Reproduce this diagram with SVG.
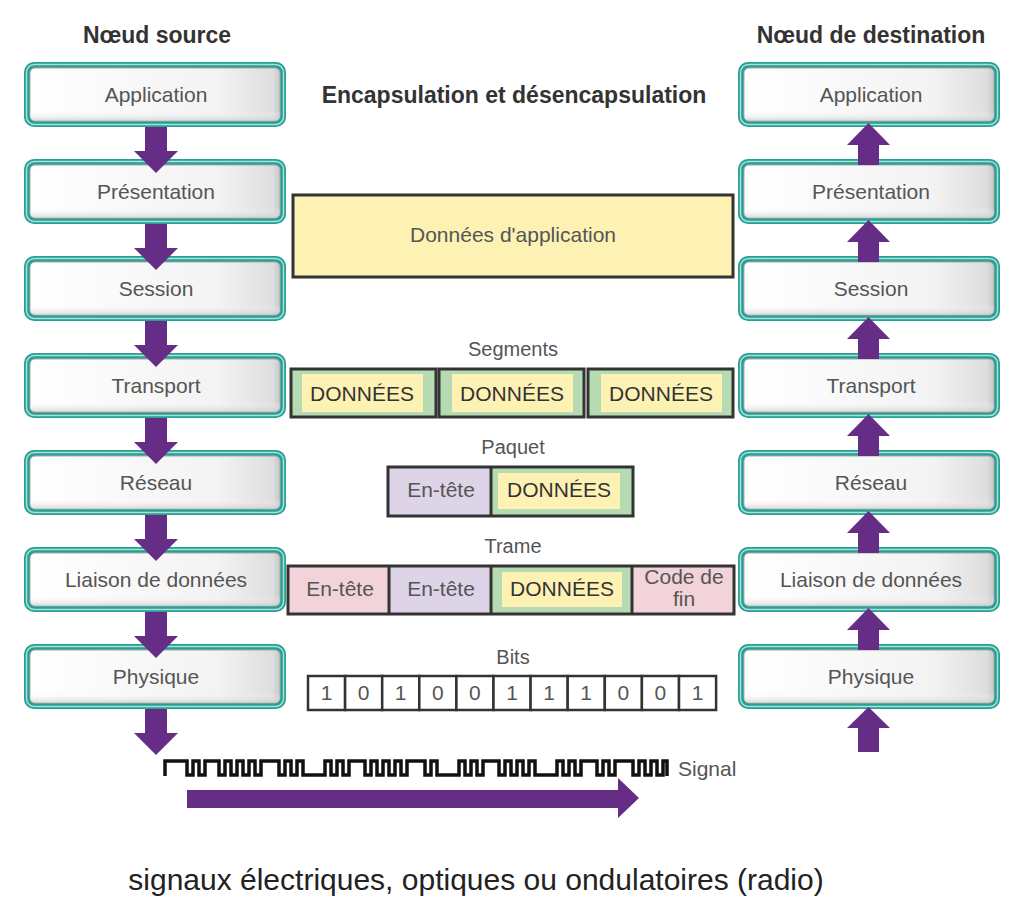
<svg xmlns="http://www.w3.org/2000/svg" width="1020" height="909" viewBox="0 0 1020 909">
<defs>
<linearGradient id="gInner" x1="0" y1="0" x2="1" y2="0">
<stop offset="0" stop-color="#ffffff"/>
<stop offset="0.75" stop-color="#f3f3f3"/>
<stop offset="0.97" stop-color="#dedede"/>
<stop offset="1" stop-color="#c8c8c8"/>
</linearGradient>
<linearGradient id="gShade" x1="0" y1="0" x2="0" y2="1">
<stop offset="0" stop-color="#ffffff" stop-opacity="0"/>
<stop offset="0.8" stop-color="#ffffff" stop-opacity="0"/>
<stop offset="1" stop-color="#c9c9c9" stop-opacity="0.7"/>
</linearGradient>
</defs>
<style>
text{font-family:"Liberation Sans",Arial,sans-serif;}
.title{font-size:23px;font-weight:bold;fill:#333;text-anchor:middle;}
.lbl{font-size:21px;fill:#555;text-anchor:middle;}
.lab{font-size:20px;fill:#555;text-anchor:middle;}
.dat{font-size:21px;fill:#333;text-anchor:middle;}
.teal{fill:#26a093;}
.tealhl{fill:none;stroke:#a9e0da;stroke-width:1.5;}
.inner{fill:url(#gInner);stroke:#a8a8a8;stroke-width:1;}
.shade{fill:url(#gShade);}
.blk{stroke:#333;stroke-width:3;}
.green{fill:#b6dbb3;}
.yellow{fill:#fdf2b4;}
.pink{fill:#f2d3d9;}
.lav{fill:#ddd4e7;}
.bit{fill:#fff;stroke:#333;stroke-width:2.5;}
.arrow{fill:#662d87;}
</style>
<rect width="1020" height="909" fill="#fff"/>

<text class="title" x="157" y="43">Nœud source</text>
<text class="title" x="871" y="43">Nœud de destination</text>
<text class="title" x="514" y="103">Encapsulation et désencapsulation</text>

<!-- Source stack -->
<g id="src-application"><rect class="teal" x="24" y="62" width="262" height="65" rx="10"/><rect class="tealhl" x="26.5" y="64.5" width="257" height="60" rx="8"/><rect class="inner" x="30" y="68" width="250" height="53" rx="5"/><rect class="shade" x="30" y="68" width="250" height="53" rx="5"/><text class="lbl" x="156" y="102">Application</text></g>
<g id="src-presentation"><rect class="teal" x="24" y="159" width="262" height="65" rx="10"/><rect class="tealhl" x="26.5" y="161.5" width="257" height="60" rx="8"/><rect class="inner" x="30" y="165" width="250" height="53" rx="5"/><rect class="shade" x="30" y="165" width="250" height="53" rx="5"/><text class="lbl" x="156" y="199">Présentation</text></g>
<g id="src-session"><rect class="teal" x="24" y="256" width="262" height="65" rx="10"/><rect class="tealhl" x="26.5" y="258.5" width="257" height="60" rx="8"/><rect class="inner" x="30" y="262" width="250" height="53" rx="5"/><rect class="shade" x="30" y="262" width="250" height="53" rx="5"/><text class="lbl" x="156" y="296">Session</text></g>
<g id="src-transport"><rect class="teal" x="24" y="353" width="262" height="65" rx="10"/><rect class="tealhl" x="26.5" y="355.5" width="257" height="60" rx="8"/><rect class="inner" x="30" y="359" width="250" height="53" rx="5"/><rect class="shade" x="30" y="359" width="250" height="53" rx="5"/><text class="lbl" x="156" y="393">Transport</text></g>
<g id="src-reseau"><rect class="teal" x="24" y="450" width="262" height="65" rx="10"/><rect class="tealhl" x="26.5" y="452.5" width="257" height="60" rx="8"/><rect class="inner" x="30" y="456" width="250" height="53" rx="5"/><rect class="shade" x="30" y="456" width="250" height="53" rx="5"/><text class="lbl" x="156" y="490">Réseau</text></g>
<g id="src-liaison"><rect class="teal" x="24" y="547" width="262" height="65" rx="10"/><rect class="tealhl" x="26.5" y="549.5" width="257" height="60" rx="8"/><rect class="inner" x="30" y="553" width="250" height="53" rx="5"/><rect class="shade" x="30" y="553" width="250" height="53" rx="5"/><text class="lbl" x="156" y="587">Liaison de données</text></g>
<g id="src-physique"><rect class="teal" x="24" y="644" width="262" height="65" rx="10"/><rect class="tealhl" x="26.5" y="646.5" width="257" height="60" rx="8"/><rect class="inner" x="30" y="650" width="250" height="53" rx="5"/><rect class="shade" x="30" y="650" width="250" height="53" rx="5"/><text class="lbl" x="156" y="684">Physique</text></g>

<!-- Destination stack -->
<g id="dst-application"><rect class="teal" x="738" y="62" width="262" height="65" rx="10"/><rect class="tealhl" x="740.5" y="64.5" width="257" height="60" rx="8"/><rect class="inner" x="744" y="68" width="250" height="53" rx="5"/><rect class="shade" x="744" y="68" width="250" height="53" rx="5"/><text class="lbl" x="871" y="102">Application</text></g>
<g id="dst-presentation"><rect class="teal" x="738" y="159" width="262" height="65" rx="10"/><rect class="tealhl" x="740.5" y="161.5" width="257" height="60" rx="8"/><rect class="inner" x="744" y="165" width="250" height="53" rx="5"/><rect class="shade" x="744" y="165" width="250" height="53" rx="5"/><text class="lbl" x="871" y="199">Présentation</text></g>
<g id="dst-session"><rect class="teal" x="738" y="256" width="262" height="65" rx="10"/><rect class="tealhl" x="740.5" y="258.5" width="257" height="60" rx="8"/><rect class="inner" x="744" y="262" width="250" height="53" rx="5"/><rect class="shade" x="744" y="262" width="250" height="53" rx="5"/><text class="lbl" x="871" y="296">Session</text></g>
<g id="dst-transport"><rect class="teal" x="738" y="353" width="262" height="65" rx="10"/><rect class="tealhl" x="740.5" y="355.5" width="257" height="60" rx="8"/><rect class="inner" x="744" y="359" width="250" height="53" rx="5"/><rect class="shade" x="744" y="359" width="250" height="53" rx="5"/><text class="lbl" x="871" y="393">Transport</text></g>
<g id="dst-reseau"><rect class="teal" x="738" y="450" width="262" height="65" rx="10"/><rect class="tealhl" x="740.5" y="452.5" width="257" height="60" rx="8"/><rect class="inner" x="744" y="456" width="250" height="53" rx="5"/><rect class="shade" x="744" y="456" width="250" height="53" rx="5"/><text class="lbl" x="871" y="490">Réseau</text></g>
<g id="dst-liaison"><rect class="teal" x="738" y="547" width="262" height="65" rx="10"/><rect class="tealhl" x="740.5" y="549.5" width="257" height="60" rx="8"/><rect class="inner" x="744" y="553" width="250" height="53" rx="5"/><rect class="shade" x="744" y="553" width="250" height="53" rx="5"/><text class="lbl" x="871" y="587">Liaison de données</text></g>
<g id="dst-physique"><rect class="teal" x="738" y="644" width="262" height="65" rx="10"/><rect class="tealhl" x="740.5" y="646.5" width="257" height="60" rx="8"/><rect class="inner" x="744" y="650" width="250" height="53" rx="5"/><rect class="shade" x="744" y="650" width="250" height="53" rx="5"/><text class="lbl" x="871" y="684">Physique</text></g>

<!-- Application data -->
<g id="app-data">
<rect class="yellow blk" x="293" y="195" width="440" height="82"/>
<text class="lbl" x="513" y="242">Données d'application</text>
</g>

<!-- Segments -->
<g id="segments">
<text class="lab" x="513" y="356">Segments</text>
<rect class="green blk" x="291" y="369" width="145" height="48"/>
<rect class="yellow" x="302" y="374" width="121" height="38"/>
<text class="dat" x="362" y="401">DONNÉES</text>
<rect class="green blk" x="439" y="369" width="145" height="48"/>
<rect class="yellow" x="452" y="374" width="121" height="38"/>
<text class="dat" x="512" y="401">DONNÉES</text>
<rect class="green blk" x="588" y="369" width="145" height="48"/>
<rect class="yellow" x="601" y="374" width="121" height="38"/>
<text class="dat" x="661" y="401">DONNÉES</text>
</g>

<!-- Paquet -->
<g id="paquet">
<text class="lab" x="513" y="454">Paquet</text>
<rect class="lav" x="388" y="467" width="103" height="49"/>
<rect class="green" x="491" y="467" width="142" height="49"/>
<rect class="yellow" x="498" y="473" width="122" height="36"/>
<rect fill="none" class="blk" x="388" y="467" width="245" height="49"/>
<line class="blk" x1="491" y1="467" x2="491" y2="516"/>
<text class="lbl" x="441" y="497">En-tête</text>
<text class="dat" x="559" y="497">DONNÉES</text>
</g>

<!-- Trame -->
<g id="trame">
<text class="lab" x="513" y="553">Trame</text>
<rect class="pink" x="288" y="566" width="101" height="48"/>
<rect class="lav" x="389" y="566" width="102" height="48"/>
<rect class="green" x="491" y="566" width="141" height="48"/>
<rect class="yellow" x="502" y="572" width="120" height="35"/>
<rect class="pink" x="632" y="566" width="102" height="48"/>
<rect fill="none" class="blk" x="288" y="566" width="446" height="48"/>
<line class="blk" x1="389" y1="566" x2="389" y2="614"/>
<line class="blk" x1="491" y1="566" x2="491" y2="614"/>
<line class="blk" x1="632" y1="566" x2="632" y2="614"/>
<text class="lbl" x="340" y="596">En-tête</text>
<text class="lbl" x="441" y="596">En-tête</text>
<text class="dat" x="562" y="596">DONNÉES</text>
<text class="lbl" x="684" y="584">Code de</text>
<text class="lbl" x="684" y="606">fin</text>
</g>

<!-- Bits -->
<g id="bits">
<text class="lab" x="513" y="664">Bits</text>
<rect class="bit" x="308" y="676" width="37.1" height="34"/>
<rect class="bit" x="345.1" y="676" width="37.1" height="34"/>
<rect class="bit" x="382.2" y="676" width="37.1" height="34"/>
<rect class="bit" x="419.3" y="676" width="37.1" height="34"/>
<rect class="bit" x="456.4" y="676" width="37.1" height="34"/>
<rect class="bit" x="493.5" y="676" width="37.1" height="34"/>
<rect class="bit" x="530.6" y="676" width="37.1" height="34"/>
<rect class="bit" x="567.7" y="676" width="37.1" height="34"/>
<rect class="bit" x="604.8" y="676" width="37.1" height="34"/>
<rect class="bit" x="641.9" y="676" width="37.1" height="34"/>
<rect class="bit" x="679" y="676" width="37.1" height="34"/>
<text class="lbl" x="326.5" y="700">1</text>
<text class="lbl" x="363.6" y="700">0</text>
<text class="lbl" x="400.7" y="700">1</text>
<text class="lbl" x="437.8" y="700">0</text>
<text class="lbl" x="474.9" y="700">0</text>
<text class="lbl" x="512" y="700">1</text>
<text class="lbl" x="549.1" y="700">1</text>
<text class="lbl" x="586.2" y="700">1</text>
<text class="lbl" x="623.3" y="700">0</text>
<text class="lbl" x="660.4" y="700">0</text>
<text class="lbl" x="697.5" y="700">1</text>
</g>

<!-- Signal -->
<g id="signal">
<path fill="none" stroke="#111" stroke-width="3.5" stroke-linejoin="miter" d="M165,776 V761 H187 V775 H193 V761 H199 V775 H205 V761 H219 V775 H225 V761 H231 V775 H237 V761 H243 V775 H249 V761 H255 V775 H261 V761 H279 V775 H285 V761 H291 V775 H297 V761 H303 V775 H325 V761 H331 V775 H337 V761 H343 V775 H349 V761 H365 V775 H371 V761 H377 V775 H383 V761 H389 V775 H395 V761 H401 V775 H407 V761 H425 V775 H431 V761 H437 V775 H459 V761 H465 V775 H471 V761 H477 V775 H483 V761 H499 V775 H505 V761 H511 V775 H517 V761 H523 V775 H529 V761 H535 V775 H557 V761 H563 V775 H569 V761 H575 V775 H581 V761 H597 V775 H603 V761 H609 V775 H615 V761 H633 V775 H639 V761 H645 V775 H651 V761 H657 V775 H663 V761 H667 V776"/>
<text x="678" y="776" style="font-size:21px;fill:#555;">Signal</text>
</g>

<text x="476" y="890" style="font-size:30px;fill:#222;text-anchor:middle;">signaux électriques, optiques ou ondulatoires (radio)</text>

<!-- Connectors -->
<g id="connectors">
<polygon class="arrow" points="145,127 167,127 167,151 178,151 156,173 134,151 145,151"/>
<polygon class="arrow" points="145,224 167,224 167,248 178,248 156,270 134,248 145,248"/>
<polygon class="arrow" points="145,321 167,321 167,345 178,345 156,367 134,345 145,345"/>
<polygon class="arrow" points="145,418 167,418 167,442 178,442 156,464 134,442 145,442"/>
<polygon class="arrow" points="145,515 167,515 167,539 178,539 156,561 134,539 145,539"/>
<polygon class="arrow" points="145,612 167,612 167,636 178,636 156,658 134,636 145,636"/>
<polygon class="arrow" points="145,709 167,709 167,733 178,733 156,755 134,733 145,733"/>

<polygon class="arrow" points="858,165 879,165 879,145 890,145 868.5,123 847,145 858,145"/>
<polygon class="arrow" points="858,262 879,262 879,242 890,242 868.5,220 847,242 858,242"/>
<polygon class="arrow" points="858,359 879,359 879,339 890,339 868.5,317 847,339 858,339"/>
<polygon class="arrow" points="858,456 879,456 879,436 890,436 868.5,414 847,436 858,436"/>
<polygon class="arrow" points="858,553 879,553 879,533 890,533 868.5,511 847,533 858,533"/>
<polygon class="arrow" points="858,650 879,650 879,630 890,630 868.5,608 847,630 858,630"/>
<polygon class="arrow" points="858,752 879,752 879,728 890,728 868.5,707 847,728 858,728"/>

<polygon class="arrow" points="187,790 618,790 618,778 639,798 618,818 618,808 187,808"/>
</g>
</svg>
